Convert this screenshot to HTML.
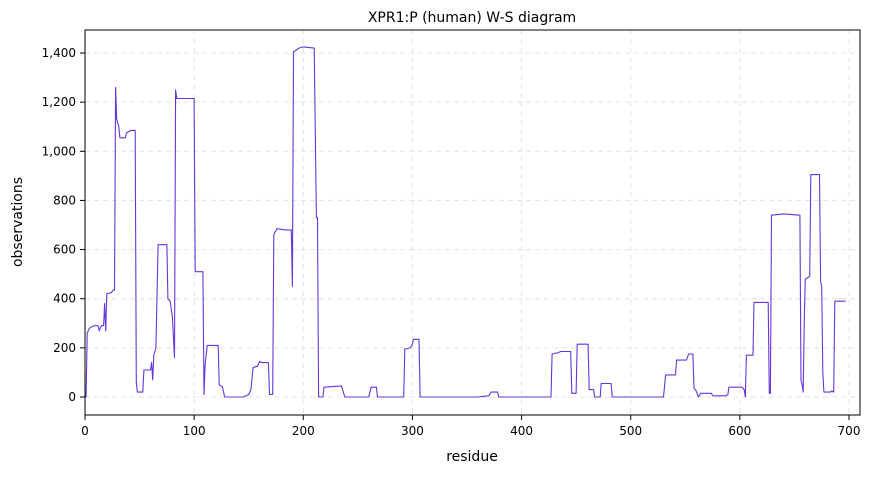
<!DOCTYPE html>
<html><head><meta charset="utf-8"><style>
body{margin:0;background:#fff;font-family:"Liberation Sans","DejaVu Sans",sans-serif}
</style></head><body>
<svg width="872" height="474" xmlns="http://www.w3.org/2000/svg" font-family="DejaVu Sans, Liberation Sans, sans-serif">
<rect width="872" height="474" fill="#fff"/>
<text x="472" y="22" text-anchor="middle" font-size="14" fill="#000">XPR1:P (human) W-S diagram</text>
<g id="grid"></g>
<g id="axes"></g>
<path id="series" fill="none" stroke="#6236d8" stroke-width="1.1" stroke-linejoin="round"/>
<rect x="85" y="30" width="775" height="385" fill="none" stroke="#000" stroke-width="1"/>
<text x="472" y="461" text-anchor="middle" font-size="14">residue</text>
<text transform="translate(22,222) rotate(-90)" text-anchor="middle" font-size="14">observations</text>
</svg>
<script>
const residues=[0,1,2,4,8,12,13,15,17,18,19,20,24,26,27,28,29,31,32,37,38,42,46,47,48,53,54,60,61,62,63,65,67,75,76,78,80,82,83,84,100,101,108,109,110,112,122,123,126,128,145,150,152,154,158,160,162,168,169,172,173,174,176,184,189,190,191,193,196,200,210,212,213,214,218,219,235,238,260,262,267,268,292,293,298,300,301,306,307,330,360,370,372,378,379,427,428,433,436,445,446,450,451,461,462,466,467,472,473,482,483,530,532,541,542,551,553,557,558,560,562,564,574,575,587,589,590,602,604,605,606,612,613,626,627,628,629,640,655,656,657,658,659,660,664,665,673,674,675,676,677,683,684,686,687,697];
const observations=[0,0,260,280,290,290,270,290,290,380,270,420,425,435,435,1260,1130,1100,1055,1055,1075,1085,1085,60,20,20,110,110,140,70,170,200,620,620,400,390,330,160,1250,1215,1215,510,510,10,130,210,210,50,40,0,0,10,30,120,125,145,140,140,10,10,660,670,685,680,680,450,1405,1410,1420,1425,1420,730,730,0,0,40,45,0,0,40,40,0,0,195,200,215,235,235,0,0,0,5,20,20,0,0,175,180,185,185,15,15,215,215,30,30,0,0,55,55,0,0,90,90,150,150,175,175,35,25,0,15,15,5,5,10,40,40,30,0,170,170,385,385,15,15,740,745,740,70,50,20,320,480,490,905,905,470,450,100,20,20,25,20,390,390];
const xTicks=[0,100,200,300,400,500,600,700];
const yTicks=[0,200,400,600,800,1000,1200,1400];
const X=r=>85+r*(764/700), Y=v=>397-v*(344/1400);
const ns="http://www.w3.org/2000/svg";
const grid=document.getElementById('grid'), axes=document.getElementById('axes');
function mk(tag,attrs,parent){const e=document.createElementNS(ns,tag);for(const k in attrs)e.setAttribute(k,attrs[k]);parent.appendChild(e);return e;}
xTicks.forEach(t=>{
  const g=mk('line',{x1:X(t),x2:X(t),y1:30,y2:415,stroke:'#e3e3e3','stroke-dasharray':'5,4'},grid);
  
  
  const tk=mk('line',{x1:X(t),x2:X(t),y1:415,y2:420,stroke:'#000'},axes);
  
  
  const tx=mk('text',{x:X(t),y:435,'text-anchor':'middle','font-size':'12'},axes);
  tx.textContent=t;
  
  
});
yTicks.forEach(t=>{
  const g=mk('line',{x1:85,x2:860,y1:Y(t),y2:Y(t),stroke:'#e3e3e3','stroke-dasharray':'5,4'},grid);
  
  
  const tk=mk('line',{x1:80,x2:85,y1:Y(t),y2:Y(t),stroke:'#000'},axes);
  
  
  const tx=mk('text',{x:76,y:Y(t)+4,'text-anchor':'end','font-size':'12'},axes);
  tx.textContent=t.toLocaleString('en-US');
  
  
});
document.getElementById('series').setAttribute('d',residues.map((r,i)=>(i?'L':'M')+X(r).toFixed(1)+','+Y(observations[i]).toFixed(1)).join(''));
</script>
</body></html>
